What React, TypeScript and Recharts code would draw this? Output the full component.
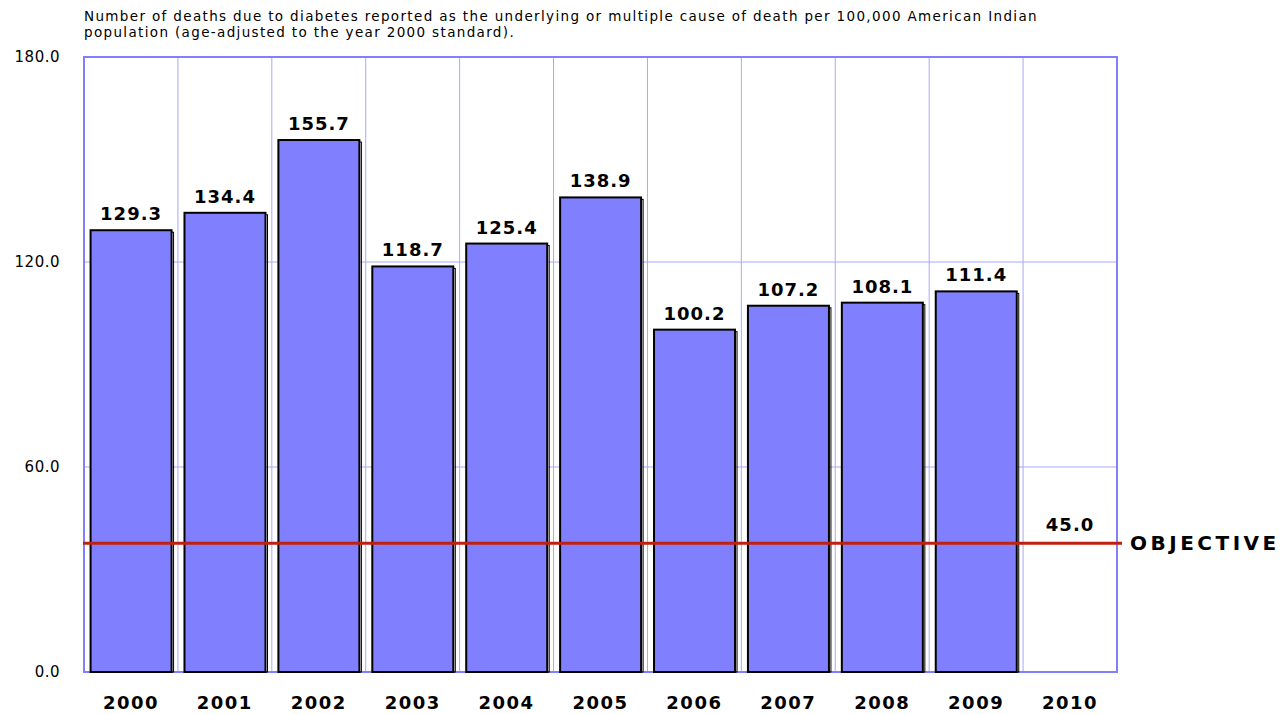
import React from "react";
import {
  BarChart,
  Bar,
  XAxis,
  YAxis,
  CartesianGrid,
  LabelList,
  ReferenceLine,
  ReferenceDot,
} from "recharts";

const years = ["2000", "2001", "2002", "2003", "2004", "2005", "2006", "2007", "2008", "2009", "2010"];
const deathRates: (number | null)[] = [129.3, 134.4, 155.7, 118.7, 125.4, 138.9, 100.2, 107.2, 108.1, 111.4, null];
const yTicks = [0, 60, 120, 180];
const objectiveLabelValue = 45.0;
const objectiveLineLevel = 37.7;
const objectiveYear = "2010";
const titleLines = [
  "Number of deaths due to diabetes reported as the underlying or multiple cause of death per 100,000 American Indian",
  "population (age-adjusted to the year 2000 standard).",
];

const data = years.map((y, i) => ({ year: y, rate: deathRates[i] }));

const FONT = "'DejaVu Sans', Verdana, sans-serif";

const BarShape = (props: any) => {
  const { x, y, width, height } = props;
  if (height == null || height <= 0) return null;
  return (
    <g>
      <rect x={x + 2} y={y + 2} width={width} height={height - 2} fill="none" stroke="#000" strokeWidth={1} />
      <rect x={x} y={y} width={width} height={height} fill="#8080ff" stroke="#000" strokeWidth={2} />
    </g>
  );
};

const ObjectiveLine = (props: any) => {
  const { x1, x2, y1 } = props;
  return (
    <g>
      <line x1={x1 - 1} x2={x2 + 5} y1={y1} y2={y1} stroke="#c0200f" strokeWidth={3} />
      <text
        x={x2 + 13}
        y={y1}
        dy="0.36em"
        fontFamily={FONT}
        fontWeight="bold"
        fontSize={20}
        letterSpacing={3.5}
        fill="#000"
      >
        OBJECTIVE
      </text>
    </g>
  );
};

export default function App() {
  const W = 1279;
  const H = 706;
  return (
    <div style={{ position: "relative", width: W, height: H }}>
      <div
        style={{
          position: "absolute",
          left: 76,
          top: 0,
          fontFamily: FONT,
          fontSize: 13.5,
          letterSpacing: 1.35,
          lineHeight: "16px",
          color: "#000",
          whiteSpace: "nowrap",
        }}
      >
        {titleLines.map((t, i) => (
          <div key={i}>{t}</div>
        ))}
      </div>
      <BarChart
        width={W}
        height={H}
        data={data}
        margin={{ top: 49, right: 170, bottom: 4, left: 16 }}
        barCategoryGap="7%"
      >
        <CartesianGrid
          stroke="#a8a8ff"
          strokeWidth={1}
          verticalCoordinatesGenerator={({ offset }: any) =>
            years.slice(1).map((_, i) => offset.left + ((i + 1) * offset.width) / years.length)
          }
        />
        <XAxis
          dataKey="year"
          axisLine={false}
          tickLine={false}
          tickMargin={18}
          height={38}
          tick={{ fontFamily: FONT, fontSize: 18, fontWeight: "bold", fill: "#000", letterSpacing: 1.5 }}
        />
        <YAxis
          domain={[0, 180]}
          ticks={yTicks}
          width={60}
          axisLine={false}
          tickLine={false}
          tickMargin={18}
          tickFormatter={(v: number) => v.toFixed(1)}
          tick={{ fontFamily: FONT, fontSize: 15, fill: "#000", letterSpacing: 0.5 }}
        />
        <Bar dataKey="rate" isAnimationActive={false} shape={<BarShape />}>
          <LabelList
            dataKey="rate"
            position="top"
            offset={10}
            formatter={(v: any) => (v == null ? "" : Number(v).toFixed(1))}
            style={{ fontFamily: FONT, fontSize: 18, fontWeight: "bold", fill: "#000", letterSpacing: 1 }}
          />
        </Bar>
        <ReferenceDot
          x={objectiveYear}
          y={objectiveLabelValue}
          r={0}
          fill="none"
          stroke="none"
          label={{
            value: objectiveLabelValue.toFixed(1),
            position: "center",
            dy: 6,
            style: { fontFamily: FONT, fontSize: 18, fontWeight: "bold", fill: "#000", letterSpacing: 1 },
          }}
        />
        <ReferenceLine y={objectiveLineLevel} ifOverflow="visible" shape={<ObjectiveLine />} />
        <rect x={76} y={49} width={1033} height={615} fill="none" stroke="#8080ff" strokeWidth={2} />
      </BarChart>
    </div>
  );
}
